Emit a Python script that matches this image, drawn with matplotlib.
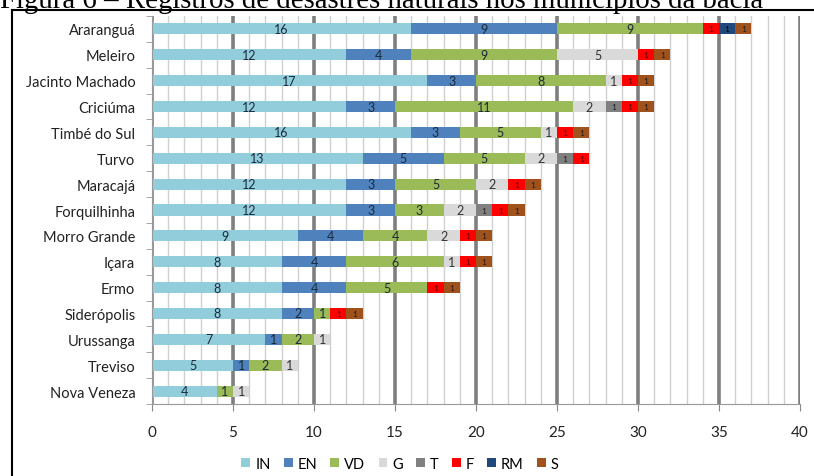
import matplotlib
matplotlib.use("Agg")
import matplotlib.pyplot as plt
import numpy as np
from matplotlib.patches import Patch
from matplotlib.lines import Line2D

categories = ["Araranguá", "Meleiro", "Jacinto Machado", "Criciúma", "Timbé do Sul",
              "Turvo", "Maracajá", "Forquilhinha", "Morro Grande", "Içara", "Ermo",
              "Siderópolis", "Urussanga", "Treviso", "Nova Veneza"]
series_names = ["IN", "EN", "VD", "G", "T", "F", "RM", "S"]
IN = [16, 12, 17, 12, 16, 13, 12, 12, 9, 8, 8, 8, 7, 5, 4]
EN = [9, 4, 3, 3, 3, 5, 3, 3, 4, 4, 4, 2, 1, 1, 0]
VD = [9, 9, 8, 11, 5, 5, 5, 3, 4, 6, 5, 1, 2, 2, 1]
G = [0, 5, 1, 2, 1, 2, 2, 2, 2, 1, 0, 0, 1, 1, 1]
T = [0, 0, 0, 1, 0, 1, 0, 1, 0, 0, 0, 0, 0, 0, 0]
F = [1, 1, 1, 1, 1, 1, 1, 1, 1, 1, 1, 1, 0, 0, 0]
RM = [1, 0, 0, 0, 0, 0, 0, 0, 0, 0, 0, 0, 0, 0, 0]
S = [1, 1, 1, 1, 1, 0, 1, 1, 1, 1, 1, 1, 0, 0, 0]
x_ticks = [0, 5, 10, 15, 20, 25, 30, 35, 40]
title = "Figura 6 – Registros de desastres naturais nos municípios da bacia"

series = [IN, EN, VD, G, T, F, RM, S]
colors = ["#92CDDC", "#4F81BD", "#9BBB59", "#D9D9D9", "#808080", "#FF0000", "#1F497D", "#A0521C"]
label_sizes = [9, 9, 9, 9, 6, 6, 6, 6]
label_colors = ["#1a2a3a", "#1a2a3a", "#1a2a3a", "#333333", "#1a1a1a", "#550000", "#000000", "#1a1a1a"]

plt.rcParams['font.family'] = ['Lato', 'DejaVu Sans']

fig = plt.figure(figsize=(8.14, 4.77), dpi=100)
ax = fig.add_axes([152/814, 1 - 405/477, (800-152)/814, (405-17)/477])

y = np.arange(len(categories))
left = np.zeros(len(categories))
for vals, c, name, fs, lc in zip(series, colors, series_names, label_sizes, label_colors):
    v = np.array(vals, dtype=float)
    ax.barh(y, v, left=left, height=0.43, color=c, label=name, zorder=3)
    for yi, (l, w) in enumerate(zip(left, v)):
        if w > 0:
            ax.text(l + w/2, yi, f"{int(w)}", ha='center', va='center',
                    fontsize=fs, color=lc, zorder=4)
    left += v

ax.set_xlim(0, 40)
ax.set_ylim(len(categories) - 0.5, -0.45)
ax.set_yticks(y)
ax.set_yticklabels(categories, fontsize=10.5, color="#222222")
ax.tick_params(axis='y', length=0, pad=12)
ax.set_yticks(np.arange(-0.5, len(categories), 1), minor=True)
ax.tick_params(axis='y', which='minor', length=4, color="#999999")

ax.set_xticks(x_ticks)
ax.set_xticklabels([str(t) for t in x_ticks], fontsize=11, color="#222222")
ax.set_xticks(np.arange(0, 41, 1), minor=True)
ax.tick_params(axis='x', which='major', length=5, color="#888888", pad=10)
ax.tick_params(axis='x', which='minor', length=0)

for xv in range(0, 41):
    if xv % 5 == 0:
        ax.axvline(xv, color="#7f7f7f", lw=2.6, zorder=1)
    else:
        ax.axvline(xv, color="#d0d0d0", lw=1.0, zorder=1)

for s in ['top', 'right']:
    ax.spines[s].set_visible(False)
ax.spines['left'].set_color("#999999")
ax.spines['bottom'].set_color("#999999")
ax.spines['left'].set_zorder(5)

handles = [Patch(facecolor=c, edgecolor='none', label=n) for c, n in zip(colors, series_names)]
fig.legend(handles=handles, loc='center', bbox_to_anchor=(400/814, 1 - 465/477), ncol=8,
           frameon=False, fontsize=10.5, handlelength=0.6, handleheight=0.6,
           handletextpad=0.35, columnspacing=0.9)

# frame lines (top and left)
fig.add_artist(Line2D([12/814, 1], [1 - 11/477, 1 - 11/477], color='black', lw=1.5, transform=fig.transFigure))
fig.add_artist(Line2D([12/814, 12/814], [0, 1 - 11/477], color='black', lw=1.5, transform=fig.transFigure))

fig.text(0.0, 1 - 0.5/477, title, fontsize=20.8, family='Liberation Serif', ha='left', va='center')

fig.savefig("out.png", dpi=100)
